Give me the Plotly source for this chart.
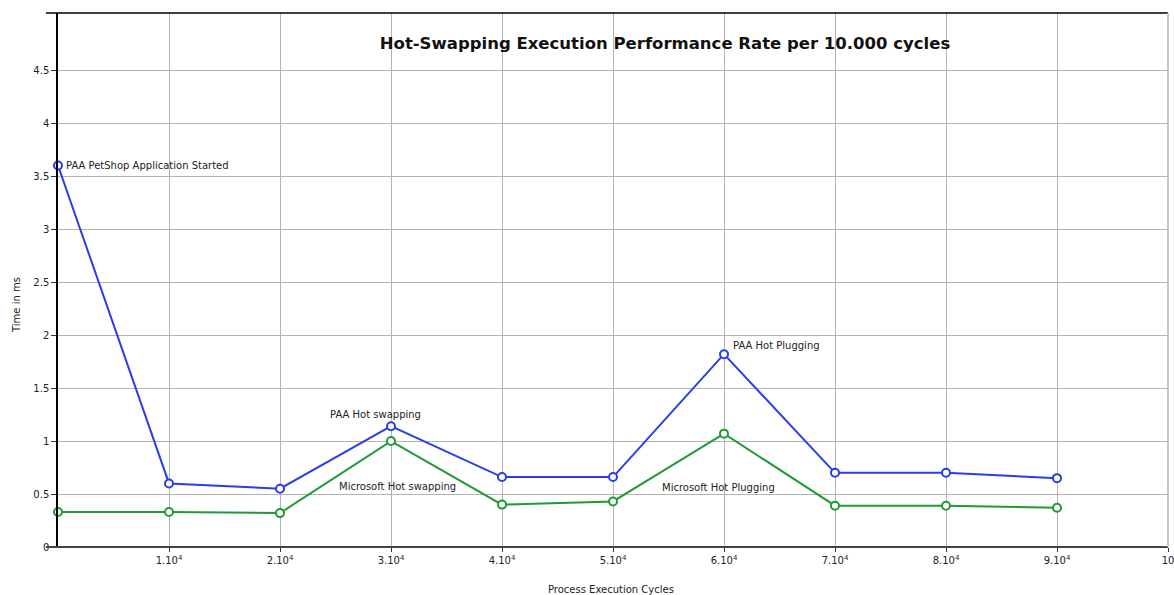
import plotly.graph_objects as go

cycles = [0, 1, 2, 3, 4, 5, 6, 7, 8, 9]
paa = [3.6, 0.6, 0.55, 1.14, 0.66, 0.66, 1.82, 0.70, 0.70, 0.65]
microsoft = [0.33, 0.33, 0.32, 1.0, 0.40, 0.43, 1.07, 0.39, 0.39, 0.37]
x_tickvals = [1, 2, 3, 4, 5, 6, 7, 8, 9, 10]
x_ticktext = ["1.10<sup>4</sup>", "2.10<sup>4</sup>", "3.10<sup>4</sup>", "4.10<sup>4</sup>",
              "5.10<sup>4</sup>", "6.10<sup>4</sup>", "7.10<sup>4</sup>", "8.10<sup>4</sup>",
              "9.10<sup>4</sup>", "10"]
y_tickvals = [0, 0.5, 1, 1.5, 2, 2.5, 3, 3.5, 4, 4.5]
y_ticktext = ["0", "0.5", "1", "1.5", "2", "2.5", "3", "3.5", "4", "4.5"]

labels = [
    dict(x=0, y=3.6, text="PAA PetShop Application Started", xanchor="left", xshift=6),
    dict(x=2.86, y=1.25, text="PAA Hot swapping", xanchor="center", xshift=0),
    dict(x=3.06, y=0.57, text="Microsoft Hot swapping", xanchor="center", xshift=0),
    dict(x=6.06, y=1.9, text="PAA Hot Plugging", xanchor="left", xshift=0),
    dict(x=5.95, y=0.56, text="Microsoft Hot Plugging", xanchor="center", xshift=0),
]

font_family = "DejaVu Sans"
text_color = "#222222"

W, H = 1174, 595
L, R, T, B = 58, 6, 13, 48
PW, PH = W - L - R, H - T - B

fig = go.Figure()
fig.add_trace(go.Scatter(
    x=cycles, y=paa, mode="lines+markers", name="PAA",
    line=dict(color="#2a3ee6", width=2),
    marker=dict(symbol="circle", size=8, color="white", line=dict(width=2, color="#2a3ee6")),
    cliponaxis=False,
))
fig.add_trace(go.Scatter(
    x=cycles, y=microsoft, mode="lines+markers", name="Microsoft",
    line=dict(color="#1f9a35", width=2),
    marker=dict(symbol="circle", size=8, color="white", line=dict(width=2, color="#1f9a35")),
    cliponaxis=False,
))

for a in labels:
    fig.add_annotation(x=a["x"], y=a["y"], text=a["text"], showarrow=False,
                       xanchor=a["xanchor"], yanchor="middle", xshift=a["xshift"],
                       font=dict(family=font_family, size=10, color=text_color))

# axis titles
fig.add_annotation(xref="paper", yref="paper", x=(611 - L) / PW, y=-42 / PH,
                   text="Process Execution Cycles", showarrow=False,
                   xanchor="center", yanchor="middle",
                   font=dict(family=font_family, size=10, color=text_color))
fig.add_annotation(xref="paper", yref="paper", x=-42 / PW, y=(547 - 305) / PH,
                   text="Time in ms", showarrow=False, textangle=-90,
                   xanchor="center", yanchor="middle",
                   font=dict(family=font_family, size=10, color=text_color))

# frame lines
fig.add_shape(type="line", xref="paper", yref="paper", x0=-12 / PW, x1=1, y0=1, y1=1,
              line=dict(color="black", width=1.5))
fig.add_shape(type="line", xref="paper", yref="paper", x0=-12 / PW, x1=1, y0=0, y1=0,
              line=dict(color="#444444", width=2))
fig.add_shape(type="line", xref="paper", yref="paper", x0=1, x1=1, y0=0, y1=1,
              line=dict(color="#b4b4b4", width=1.5))

fig.update_layout(
    width=W, height=H,
    margin=dict(l=L, r=R, t=T, b=B, autoexpand=False),
    paper_bgcolor="white", plot_bgcolor="white",
    showlegend=False,
    title=dict(text="<b>Hot-Swapping Execution Performance Rate per 10.000 cycles</b>",
               x=665 / W, xanchor="center", y=0.927, yanchor="middle",
               font=dict(family=font_family, size=16.5, color="#111111")),
    xaxis=dict(range=[0, 10], tickvals=x_tickvals, ticktext=x_ticktext,
               showgrid=True, gridcolor="#b4b4b4", gridwidth=1,
               zeroline=False, showline=False, automargin=False,
               ticklabeloverflow="allow",
               ticks="outside", ticklen=4, tickcolor="#333333",
               tickfont=dict(family=font_family, size=10, color=text_color)),
    yaxis=dict(range=[0, 5.04], tickvals=y_tickvals, ticktext=y_ticktext,
               showgrid=True, gridcolor="#b4b4b4", gridwidth=1,
               zeroline=False, showline=True, linecolor="black", linewidth=1.5,
               automargin=False,
               ticks="outside", ticklen=5, tickcolor="#333333",
               tickfont=dict(family=font_family, size=10, color=text_color)),
)

fig.write_html("out.html", config={"displayModeBar": False},
               post_script="document.body.style.margin='0';document.body.style.padding='0';")
